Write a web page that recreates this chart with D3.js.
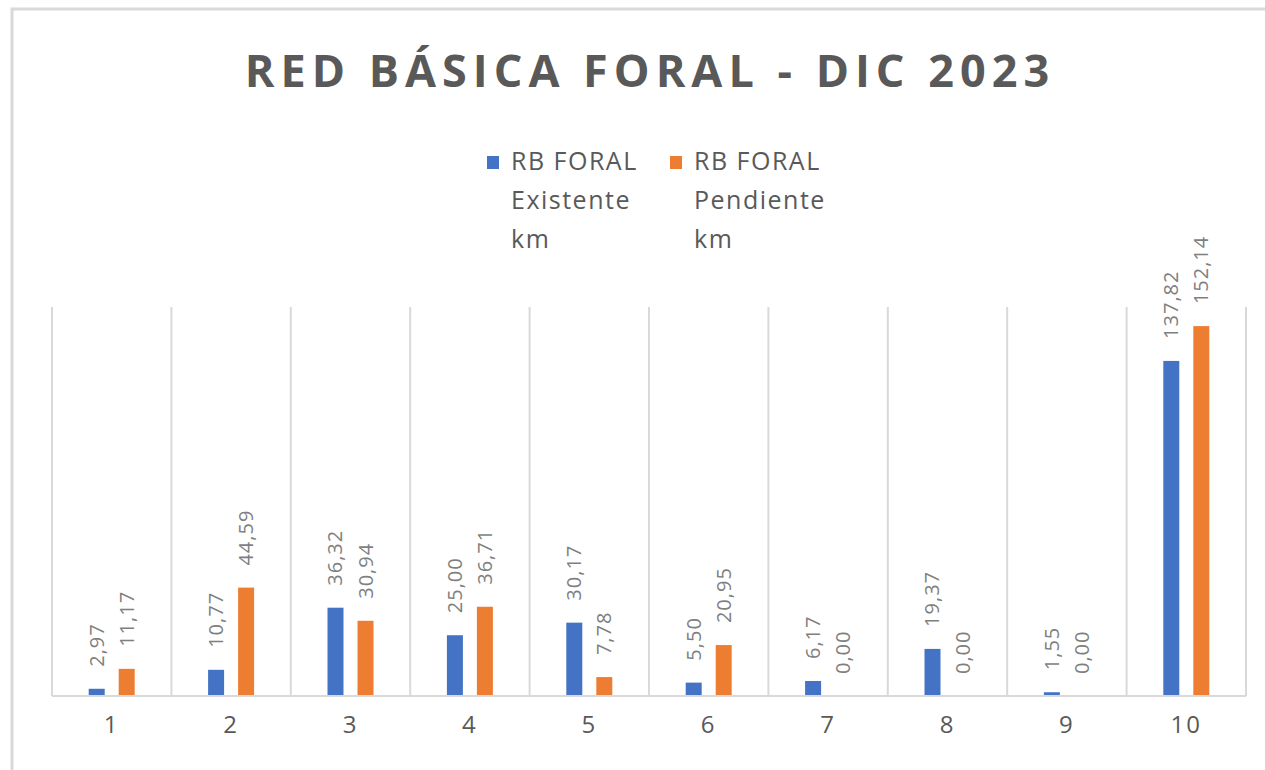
<!DOCTYPE html><html><head><meta charset="UTF-8"><script src="https://d3js.org/d3.v7.min.js"></script><style>
    body { margin: 0; background: #fff; }
    #chart { width: 1265px; height: 770px; font-family: "Open Sans", sans-serif; }
</style></head><body><div id="chart"></div><script>
    const categories = ['1', '2', '3', '4', '5', '6', '7', '8', '9', '10'];
    const seriesNames = ['RB FORAL Existente km', 'RB FORAL Pendiente km'];
    const existente = [2.97, 10.77, 36.32, 25.00, 30.17, 5.50, 6.17, 19.37, 1.55, 137.82];
    const pendiente = [11.17, 44.59, 30.94, 36.71, 7.78, 20.95, 0.00, 0.00, 0.00, 152.14];
    const colors = ['#4472C4', '#ED7D31'];

    const svg = d3.select('#chart').append('svg')
        .attr('width', 1265)
        .attr('height', 770);

    // outer frame (only top & left edges are visible in the crop)
    svg.append('rect')
        .attr('x', 12).attr('y', 9)
        .attr('width', 1400).attr('height', 900)
        .attr('fill', 'none')
        .attr('stroke', '#d9d9d9')
        .attr('stroke-width', 3);

    svg.append('text')
        .attr('x', 650)
        .attr('y', 87)
        .attr('text-anchor', 'middle')
        .attr('font-size', 45)
        .attr('font-weight', 'bold')
        .attr('letter-spacing', 6)
        .attr('fill', '#595959')
        .text('RED BÁSICA FORAL - DIC 2023');

    // legend
    const legendX = [487, 670];
    seriesNames.forEach((name, i) => {
        const g = svg.append('g').attr('transform', `translate(${legendX[i]},0)`);
        g.append('rect')
            .attr('x', 0).attr('y', 156)
            .attr('width', 12).attr('height', 13)
            .attr('fill', colors[i]);
        const words = ['RB FORAL', name.split(' ')[2], 'km'];
        words.forEach((w, j) => {
            g.append('text')
                .attr('x', 24)
                .attr('y', 170 + j * 39)
                .attr('font-size', 25)
                .attr('letter-spacing', 1.5)
                .attr('fill', '#595959')
                .text(w);
        });
    });

    const x = d3.scaleBand()
        .domain(categories)
        .range([52, 1246]);

    const y = d3.scaleLinear()
        .domain([0, 160])
        .range([696, 307]);

    const bw = x.bandwidth();
    const xs = d3.scaleBand()
        .domain([0, 1])
        .range([bw / 2 - 23, bw / 2 + 23])
        .paddingInner(0.467);

    // vertical dividers between categories
    const bounds = categories.map(c => x(c)).concat([x.range()[1]]);
    svg.selectAll('.grid')
        .data(bounds)
        .enter().append('line')
        .attr('class', 'grid')
        .attr('x1', d => d).attr('x2', d => d)
        .attr('y1', y(160)).attr('y2', y(0))
        .attr('stroke', '#d9d9d9')
        .attr('stroke-width', 2);

    const data = categories.map((c, i) => ({cat: c, vals: [existente[i], pendiente[i]]}));

    const groups = svg.selectAll('.grp')
        .data(data)
        .enter().append('g')
        .attr('class', 'grp')
        .attr('transform', d => `translate(${x(d.cat)},0)`);

    groups.selectAll('rect')
        .data(d => d.vals.map((v, k) => ({v, k})))
        .enter().append('rect')
        .attr('x', d => xs(d.k))
        .attr('y', d => y(d.v))
        .attr('width', xs.bandwidth())
        .attr('height', d => y(0) - y(d.v))
        .attr('fill', d => colors[d.k]);

    const fmt = v => v.toFixed(2).replace('.', ',');
    groups.selectAll('.lbl')
        .data(d => d.vals.map((v, k) => ({v, k})))
        .enter().append('text')
        .attr('class', 'lbl')
        .attr('transform', d => `translate(${xs(d.k) + xs.bandwidth() / 2},${y(d.v) - 22}) rotate(-90)`)
        .attr('dy', '0.35em')
        .attr('font-size', 20)
        .attr('letter-spacing', 1)
        .attr('fill', '#7f7f7f')
        .text(d => fmt(d.v));

    // baseline
    svg.append('line')
        .attr('x1', 52).attr('x2', 1246)
        .attr('y1', y(0)).attr('y2', y(0))
        .attr('stroke', '#d9d9d9')
        .attr('stroke-width', 2);

    const xAxis = svg.append('g')
        .attr('transform', `translate(0,${y(0)})`)
        .call(d3.axisBottom(x).tickSize(0).tickPadding(20));
    xAxis.select('.domain').remove();
    xAxis.selectAll('text')
        .attr('font-family', '"Open Sans", sans-serif')
        .attr('font-size', 24)
        .attr('letter-spacing', 2)
        .attr('fill', '#595959');
</script></body></html>
